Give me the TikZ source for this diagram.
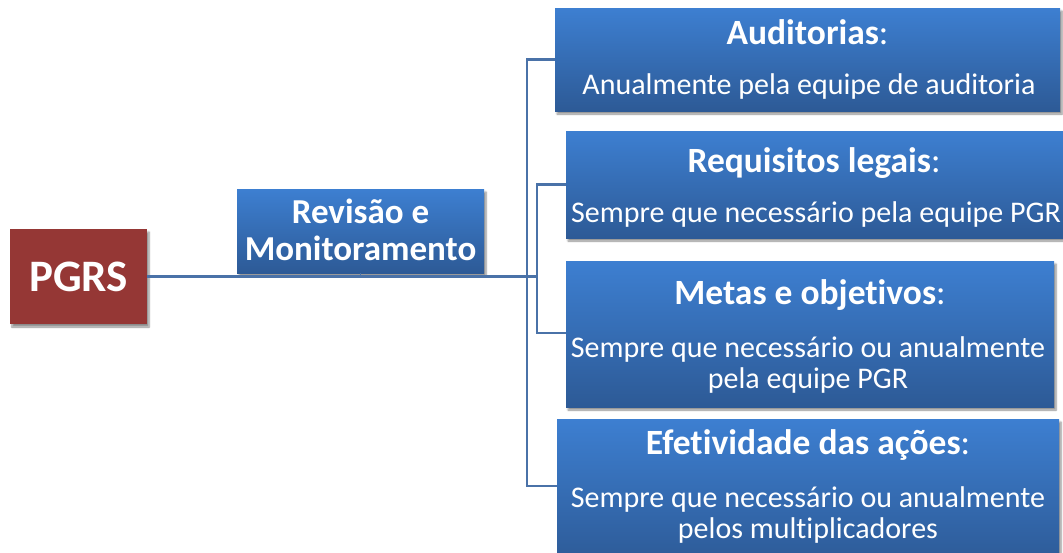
\documentclass[tikz,border=0pt]{standalone}
\usepackage{fontspec}
\setmainfont{Carlito}[Ligatures=NoCommon]
\usetikzlibrary{shadows.blur}
\definecolor{bluetop}{RGB}{61,127,209}
\definecolor{bluebot}{RGB}{45,90,150}
\definecolor{pgrsred}{RGB}{149,55,53}
\definecolor{linkblue}{RGB}{74,114,168}
\tikzset{
  shad/.style={blur shadow={shadow xshift=2pt, shadow yshift=-3pt, shadow blur steps=6, shadow opacity=45}},
  bluebox/.style={rectangle, inner sep=0pt, draw=none, top color=bluetop, bottom color=bluebot, shad},
  redbox/.style={rectangle, inner sep=0pt, draw=none, fill=pgrsred, shad},
  link/.style={draw=linkblue, line width=2.4pt},
  ttl/.style={text=white, inner sep=0pt, anchor=base, font=\fontsize{35.5}{40}\selectfont\bfseries},
  bodytxt/.style={text=white, inner sep=0pt, anchor=base, font=\fontsize{30}{31}\selectfont},
}
\begin{document}
\begin{tikzpicture}[x=1pt,y=-1pt]
\useasboundingbox (0,0) rectangle (1063,552);
% boxes
\node[redbox, minimum width=137pt, minimum height=95pt] (pgrs) at (78.5,276.5) {};
\node[bluebox, minimum width=247pt, minimum height=84pt] (rev) at (360.5,231) {};
\node[bluebox, minimum width=505pt, minimum height=103pt] (aud) at (807.5,59.5) {};
\node[bluebox, minimum width=504pt, minimum height=107pt] (req) at (818,184.5) {};
\node[bluebox, minimum width=488pt, minimum height=146pt] (met) at (810,334) {};
\node[bluebox, minimum width=502pt, minimum height=146pt] (efe) at (808,492) {};
% connectors
\coordinate (jin) at (537,276.5);
\draw[link] (pgrs.east) -- (jin);
\draw[link, line width=1.2pt] (rev.south) -- (rev.south |- pgrs.east);
\draw[link] (aud.west) -- ++(-28,0) |- ([yshift=6pt]efe.west);
\draw[link] (req.west) -- ++(-29,0) |- ([yshift=1pt]met.west);
% texts
\node[text=white, inner sep=0pt, anchor=base, font=\fontsize{45}{50}\selectfont\bfseries] (pgrsT) at (78.5,291) {PGRS};
\node[ttl, font=\fontsize{35}{40}\selectfont\bfseries] (revT1) at (360.5,223) {Revisão e};
\node[ttl, font=\fontsize{35}{40}\selectfont\bfseries] (revT2) at (360.5,260) {Monitoramento};
\node[ttl] (audT) at (807.5,44) {Auditorias{\mdseries:}};
\node[bodytxt] (audB) at (809,94) {Anualmente pela equipe de auditoria};
\node[ttl] (reqT) at (814,172) {Requisitos legais{\mdseries:}};
\node[bodytxt] (reqB) at (816,222) {Sempre que necessário pela equipe PGR};
\node[ttl] (metT) at (810,304) {Metas e objetivos{\mdseries:}};
\node[bodytxt] (metB1) at (808,357) {Sempre que necessário ou anualmente};
\node[bodytxt] (metB2) at (808,388) {pela equipe PGR};
\node[ttl] (efeT) at (808,454) {Efetividade das ações{\mdseries:}};
\node[bodytxt] (efeB1) at (808,507) {Sempre que necessário ou anualmente};
\node[bodytxt] (efeB2) at (808,538) {pelos multiplicadores};
\end{tikzpicture}
\end{document}
